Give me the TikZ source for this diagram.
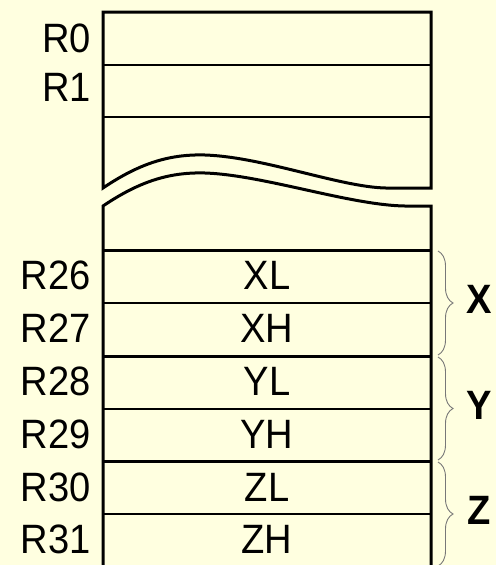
\documentclass[tikz,border=0pt]{standalone}
\usepackage{fontspec}
\setmainfont{Liberation Sans}[FakeStretch=0.93]
\usetikzlibrary{decorations.pathreplacing}
\definecolor{bgcream}{RGB}{255,255,224}
\definecolor{bracegray}{RGB}{120,120,120}
\tikzset{
  outline/.style={line width=3pt, line join=miter},
  thinsep/.style={line width=2pt},
  thicksep/.style={line width=3pt},
  reglabel/.style={anchor=east, inner sep=0pt, font=\fontsize{41}{43}\selectfont, text height=29.4pt, text depth=0pt},
  cellLabel/.style={anchor=center, inner sep=0pt, font=\fontsize{41}{43}\selectfont, text height=29.4pt, text depth=0pt},
  pairlabel/.style={anchor=center, inner sep=0pt, font=\fontsize{41}{43}\selectfont\bfseries, text height=29.4pt, text depth=0pt},
  pairbrace/.style={draw=bracegray, line width=0.9pt, decorate, decoration={brace, amplitude=15pt}}
}
\begin{document}
\begin{tikzpicture}[x=1pt, y=-1pt]
\fill[bgcream] (0,0) rectangle (496,565);
\useasboundingbox (0,0) rectangle (496,565);
% upper part
\draw[thinsep] (103,65) -- (431,65);
\draw[thinsep] (103,117) -- (431,117);
\draw[outline] (103,188) .. controls (140,163) and (170,154) .. (205,155)
  .. controls (265,157) and (345,189) .. (390,188) -- (431,188) -- (431,12) -- (103,12) -- cycle;
% lower part
\draw[outline] (103,566) -- (103,206) .. controls (140,181) and (170,172) .. (205,173)
  .. controls (265,175) and (355,207) .. (410,206) -- (431,206) -- (431,566);
\draw[thicksep] (103,250) -- (431,250);
\draw[thinsep] (103,303) -- (431,303);
\draw[thicksep] (103,356) -- (431,356);
\draw[thinsep] (103,409) -- (431,409);
\draw[thicksep] (103,461) -- (431,461);
\draw[thinsep] (103,514) -- (431,514);
% register names
\node[reglabel] (r0) at (91,37.5) {R0};
\node[reglabel] (r1) at (91,86.5) {R1};
\node[reglabel] (r26) at (91,274.5) {R26};
\node[reglabel] (r27) at (91,328) {R27};
\node[reglabel] (r28) at (91,380.5) {R28};
\node[reglabel] (r29) at (91,433.5) {R29};
\node[reglabel] (r30) at (91,487) {R30};
\node[reglabel] (r31) at (91,538.5) {R31};
% cell contents
\node[cellLabel] (xl) at (267,274.5) {XL};
\node[cellLabel] (xh) at (267,327.5) {XH};
\node[cellLabel] (yl) at (267,380.5) {YL};
\node[cellLabel] (yh) at (267,433.5) {YH};
\node[cellLabel] (zl) at (267,487) {ZL};
\node[cellLabel] (zh) at (267,538.5) {ZH};
% braces
\coordinate (bx1) at (438,251);
\coordinate (bx2) at (438,355);
\coordinate (by1) at (438,357);
\coordinate (by2) at (438,460);
\coordinate (bz1) at (438,462);
\coordinate (bz2) at (438,566);
\draw[pairbrace] (bx1) -- (bx2);
\draw[pairbrace] (by1) -- (by2);
\draw[pairbrace] (bz1) -- (bz2);
\node[pairlabel] (X) at (479,299) {X};
\node[pairlabel] (Y) at (479,405) {Y};
\node[pairlabel] (Z) at (479,510) {Z};
\end{tikzpicture}
\end{document}
